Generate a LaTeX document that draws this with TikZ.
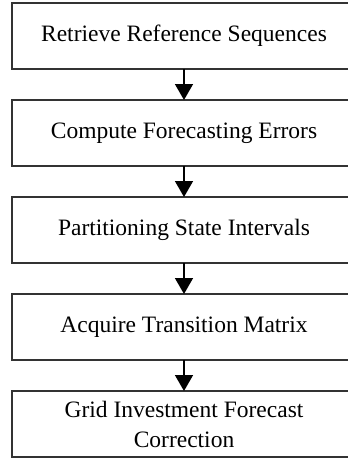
\documentclass[tikz,border=0pt]{standalone}
\usepackage{fontspec}
\setmainfont{Liberation Serif}
\usetikzlibrary{positioning,arrows.meta}

\begin{document}
\begin{tikzpicture}[x=1pt,y=1pt]
\tikzset {stepbox/.style={draw=black!80, line width=1.2pt, outer sep=0pt, minimum width=344pt, minimum height=66pt, inner sep=0pt, align=center, font=\fontsize{23.5}{30}\selectfont},
          flow/.style={-{Triangle[width=18pt,length=16pt]}, line width=1.6pt}}
\useasboundingbox (0,0) rectangle (348,-461);
\node[stepbox] (retrieve) at (184,-36) {Retrieve Reference Sequences};
\node[stepbox, below=31pt of retrieve] (compute) {Compute Forecasting Errors};
\node[stepbox, below=31pt of compute] (partition) {Partitioning State Intervals};
\node[stepbox, below=31pt of partition] (acquire) {Acquire Transition Matrix};
\node[stepbox, below=31pt of acquire] (correct) {Grid Investment Forecast\\Correction};
\draw[flow] (retrieve) -- (compute);
\draw[flow] (compute) -- (partition);
\draw[flow] (partition) -- (acquire);
\draw[flow] (acquire) -- (correct);
\end{tikzpicture}
\end{document}
